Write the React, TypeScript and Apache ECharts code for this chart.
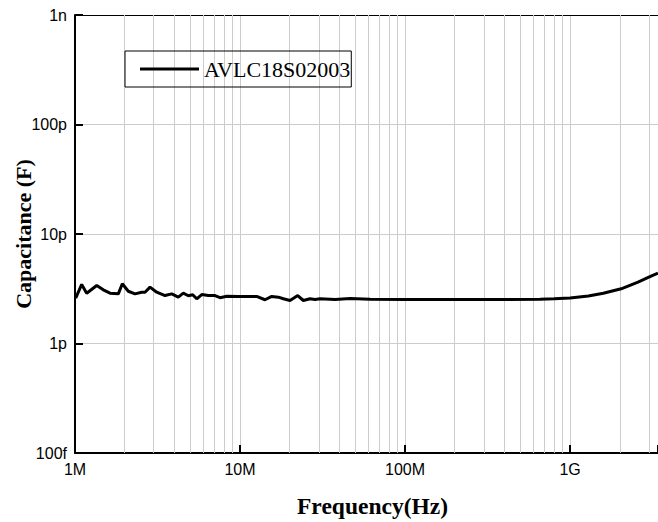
import React, { useEffect, useRef } from "react";
import * as echarts from "echarts";

// Frequency in Hz
const frequencies: number[] = [
  1.01e6, 1.098e6, 1.177e6, 1.354e6, 1.484e6, 1.63e6, 1.83e6, 1.935e6, 2.104e6, 2.31e6,
  2.537e6, 2.656e6, 2.848e6, 3.128e6, 3.511e6, 3.856e6, 4.228e6, 4.532e6, 4.861e6, 5.168e6,
  5.466e6, 5.861e6, 6.426e6, 7.055e6, 7.566e6, 8.307e6, 9.765e6, 12.62e6, 14.17e6, 15.56e6,
  17.07e6, 18.3e6, 20.09e6, 22.37e6, 24.19e6, 26.56e6, 28.48e6, 30.53e6, 37.65e6, 46.4e6,
  61.4e6, 100e6, 187e6, 376.6e6, 658e6, 0.8e9, 1.0e9, 1.29e9, 1.59e9, 2.04e9,
  2.58e9, 3.0e9, 3.41e9,
];
// Capacitance in pF
const capacitancePF: number[] = [
  2.6, 3.46, 2.88, 3.39, 3.09, 2.88, 2.84, 3.51, 3.0, 2.84,
  2.94, 2.94, 3.27, 2.94, 2.74, 2.84, 2.65, 2.88, 2.73, 2.79,
  2.56, 2.8, 2.74, 2.74, 2.62, 2.7, 2.69, 2.69, 2.51, 2.69,
  2.65, 2.56, 2.47, 2.74, 2.47, 2.56, 2.52, 2.56, 2.52, 2.57,
  2.53, 2.52, 2.52, 2.52, 2.54, 2.56, 2.6, 2.72, 2.88, 3.16,
  3.63, 4.03, 4.39,
];
const seriesName = "AVLC18S02003";
const xTickLabels: Record<number, string> = { 6: "1M", 7: "10M", 8: "100M", 9: "1G" };
const yTickLabels: Record<number, string> = { [-1]: "100f", 0: "1p", 1: "10p", 2: "100p", 3: "1n" };
const xMin = 1e6;
const xMax = 3.41e9;
const yMin = 0.1;
const yMax = 1000;

function decadeOf(v: number): number | null {
  const l = Math.log10(v);
  const r = Math.round(l);
  return Math.abs(l - r) < 1e-6 ? r : null;
}

export default function App() {
  const ref = useRef<HTMLDivElement>(null);
  useEffect(() => {
    if (!ref.current) return;
    const chart = echarts.init(ref.current, undefined, { renderer: "svg" });
    const minorLines: number[] = [];
    for (let e = 6; e <= 9; e++) {
      for (let k = 2; k <= 9; k++) {
        const v = k * Math.pow(10, e);
        if (v < xMax) minorLines.push(v);
      }
    }
    const data = frequencies.map((f, i) => [f, capacitancePF[i]]);
    const tickFont = { fontFamily: "Liberation Sans, Arial", fontSize: 16, color: "#000" };
    chart.setOption({
      animation: false,
      grid: { left: 75, right: 0, top: 15, bottom: 69, outerBoundsMode: "none", containLabel: false },
      legend: {
        left: 125,
        top: 51,
        data: [{ name: seriesName, icon: "rect" }],
        itemWidth: 59,
        itemHeight: 3,
        borderColor: "#000",
        borderWidth: 1,
        padding: [7, 1, 7, 15],
        textStyle: { fontFamily: "Liberation Serif, Times New Roman", fontSize: 22, color: "#000" },
      },
      xAxis: [
        {
          type: "log",
          logBase: 10,
          min: xMin,
          max: xMax,
          name: "Frequency(Hz)",
          nameLocation: "middle",
          nameGap: 41,
          nameMoveOverlap: false,
          nameTextStyle: {
            fontFamily: "Liberation Serif, Times New Roman",
            fontWeight: "bold",
            fontSize: 23.5,
            color: "#000",
            padding: [0, 0, 0, 12],
          },
          axisLine: { onZero: false, lineStyle: { color: "#000", width: 2 } },
          axisTick: { inside: true, length: 8, lineStyle: { color: "#000", width: 2 } },
          axisLabel: {
            ...tickFont,
            margin: 8,
            formatter: (v: number) => {
              const d = decadeOf(v);
              return d !== null && xTickLabels[d] ? xTickLabels[d] : "";
            },
          },
          splitLine: { show: true, lineStyle: { color: "#cccccc", width: 1 } },
          minorTick: { show: false },
        },
        {
          type: "log",
          logBase: 10,
          min: xMin,
          max: xMax,
          position: "top",
          axisLine: { onZero: false, lineStyle: { color: "#000", width: 1 } },
          axisTick: { show: false },
          axisLabel: { show: false },
          splitLine: { show: false },
        },
      ],
      yAxis: {
        type: "log",
        logBase: 10,
        min: yMin,
        max: yMax,
        name: "Capacitance (F)",
        nameLocation: "middle",
        nameGap: 41,
        nameMoveOverlap: false,
        nameTextStyle: {
          fontFamily: "Liberation Serif, Times New Roman",
          fontWeight: "bold",
          fontSize: 22,
          color: "#000",
        },
        axisLine: { onZero: false, lineStyle: { color: "#000", width: 2 } },
        axisTick: { inside: true, length: 8, lineStyle: { color: "#000", width: 2 } },
        axisLabel: {
          ...tickFont,
          margin: 8,
          formatter: (v: number) => {
            const d = decadeOf(v);
            return d !== null && yTickLabels[d] !== undefined ? yTickLabels[d] : "";
          },
        },
        splitLine: { show: true, lineStyle: { color: "#cccccc", width: 1 } },
      },
      series: [
        {
          name: seriesName,
          type: "line",
          xAxisIndex: 0,
          data,
          showSymbol: false,
          symbol: "none",
          z: 3,
          lineStyle: { color: "#000", width: 3 },
          itemStyle: { color: "#000" },
          markLine: {
            silent: true,
            z: 1,
            symbol: "none",
            label: { show: false },
            lineStyle: { color: "#cccccc", width: 1, type: "solid" },
            data: minorLines.map((v) => ({ xAxis: v })),
          },
        },
      ],
    });
    return () => chart.dispose();
  }, []);
  return (
    <div
      ref={ref}
      style={{ position: "fixed", left: 0, top: 0, width: 658, height: 522, background: "#fff" }}
    />
  );
}
